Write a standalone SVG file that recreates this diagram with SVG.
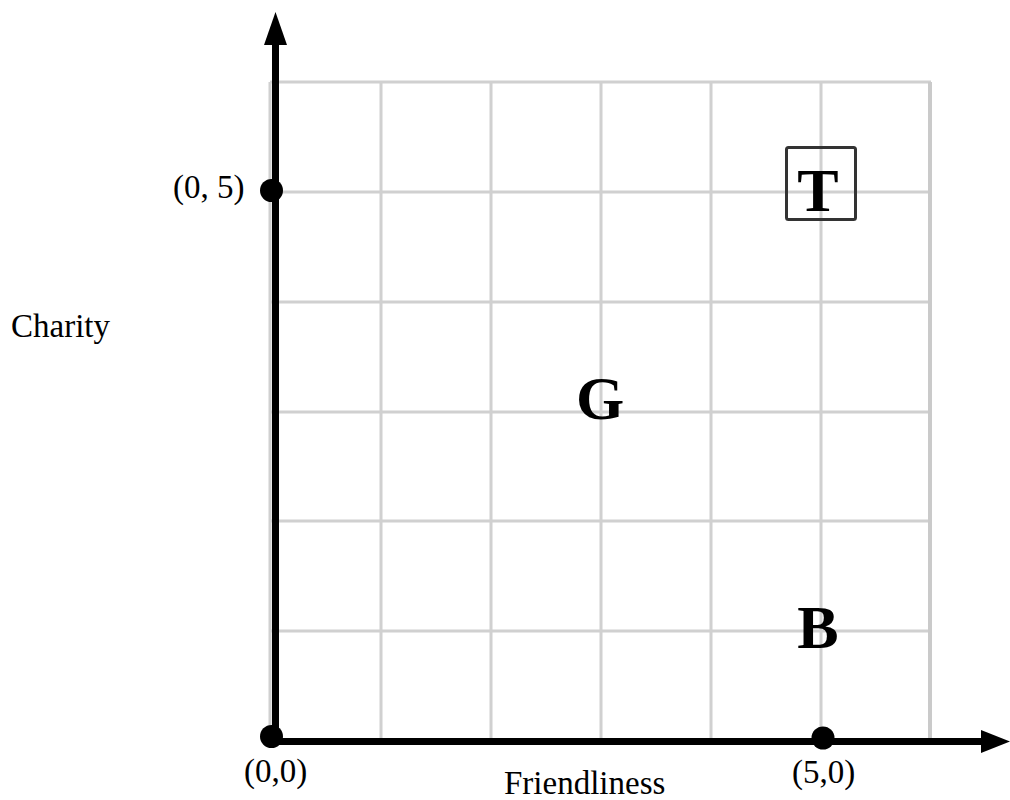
<svg xmlns="http://www.w3.org/2000/svg" width="1010" height="800" viewBox="0 0 1010 800">
<style>
.grid line{stroke:#d0d0d0;stroke-width:3}
.axis{stroke:#000;stroke-width:7;fill:none}
.lbl{font-family:"Liberation Serif","Times New Roman",serif;font-size:33px;fill:#000}
.big{font-family:"Liberation Serif","Times New Roman",serif;font-size:62px;font-weight:bold;fill:#000;text-anchor:middle}
.dot{fill:#000}
</style>
<rect width="1010" height="800" fill="#fff"/>
<g id="grid" class="grid">
<line x1="270" y1="82" x2="931" y2="82"/>
<line x1="270" y1="192" x2="931" y2="192"/>
<line x1="270" y1="302" x2="931" y2="302"/>
<line x1="270" y1="412" x2="931" y2="412"/>
<line x1="270" y1="521" x2="931" y2="521"/>
<line x1="270" y1="631" x2="931" y2="631"/>
<line x1="270" y1="82" x2="270" y2="741"/>
<line x1="381" y1="82" x2="381" y2="741"/>
<line x1="491" y1="82" x2="491" y2="741"/>
<line x1="601" y1="82" x2="601" y2="741"/>
<line x1="711" y1="82" x2="711" y2="741"/>
<line x1="821" y1="82" x2="821" y2="741"/>
<line x1="930" y1="82" x2="930" y2="741" style="stroke:#cacaca;stroke-width:4"/>
</g>
<g id="connectors">
<line class="axis" x1="275.5" y1="745" x2="275.5" y2="42"/>
<polygon points="275.5,12 264,45 287,45" fill="#000"/>
<line class="axis" x1="272" y1="741.5" x2="984" y2="741.5"/>
<polygon points="1010,741.5 981,730 981,753" fill="#000"/>
</g>
<g id="origin">
<circle class="dot" cx="271.5" cy="736.5" r="11.5"/>
<text class="lbl" x="244" y="782">(0,0)</text>
</g>
<g id="y5">
<circle class="dot" cx="271.5" cy="190.5" r="11.5"/>
<text class="lbl" x="173" y="198">(0, 5)</text>
</g>
<g id="x5">
<circle class="dot" cx="823" cy="738" r="11.5"/>
<text class="lbl" x="792" y="783">(5,0)</text>
</g>
<g id="ylabel"><text class="lbl" x="11" y="337">Charity</text></g>
<g id="xlabel"><text class="lbl" x="504" y="794">Friendliness</text></g>
<g id="T">
<rect x="786.5" y="147.5" width="69" height="72" rx="2" fill="none" stroke="#333" stroke-width="3"/>
<text class="big" x="818" y="211">T</text>
</g>
<g id="G"><text class="big" x="600" y="419">G</text></g>
<g id="B"><text class="big" x="818" y="648">B</text></g>
</svg>
